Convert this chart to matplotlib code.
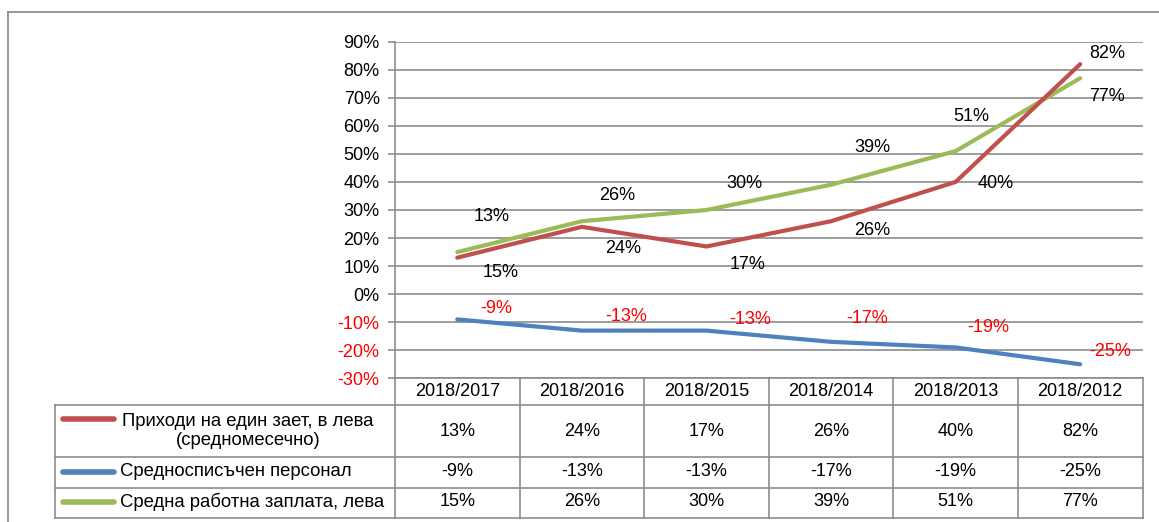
import matplotlib.pyplot as plt
from matplotlib.transforms import blended_transform_factory
from matplotlib.lines import Line2D

# Data
periods = ['2018/2017', '2018/2016', '2018/2015', '2018/2014', '2018/2013', '2018/2012']
income = [13, 24, 17, 26, 40, 82]          # Приходи на един зает
staff = [-9, -13, -13, -17, -19, -25]      # Средносписъчен персонал
salary = [15, 26, 30, 39, 51, 77]          # Средна работна заплата

series_names = ['Приходи на един зает, в лева\n(средномесечно)',
                'Средносписъчен персонал',
                'Средна работна заплата, лева']

RED = '#C0504D'
BLUE = '#4F81BD'
GREEN = '#9BBB59'
GRID = '#8C8C8C'

# label offsets (pixels) relative to each point
red_lbl_off = [(34, 41), (41, -22), (41, -18), (41, -9), (40, -2), (27, 11)]
green_lbl_off = [(43, -20), (35, 26), (38, 27), (41, 37), (16, 35), (27, -18)]
blue_lbl_off = [(39, 11), (44, 14), (44, 11), (36, 23), (33, 20), (30, 13)]

plt.rcParams['font.family'] = ['Liberation Sans', 'DejaVu Sans']

W, H = 1159, 522
fig = plt.figure(figsize=(W / 100, H / 100), dpi=100)


def fy(py):
    return 1 - py / H


def fx(px):
    return px / W


ax = fig.add_axes([fx(395), fy(378.3), fx(1142.5) - fx(395), fy(41.7) - fy(378.3)])
x = list(range(len(periods)))

ax.plot(x, staff, color=BLUE, lw=3, solid_capstyle='round', zorder=3)
ax.plot(x, salary, color=GREEN, lw=3, solid_capstyle='round', zorder=3)
ax.plot(x, income, color=RED, lw=3, solid_capstyle='round', zorder=4)

ax.set_xlim(-0.5, len(periods) - 0.5)
ax.set_ylim(-30, 90)
ax.set_yticks(range(-30, 91, 10))
ax.set_yticklabels([f'{v}%' for v in range(-30, 91, 10)], fontsize=13)
for lbl, v in zip(ax.get_yticklabels(), range(-30, 91, 10)):
    if v < 0:
        lbl.set_color('#FF0000')
ax.set_xticks([])
ax.tick_params(axis='y', length=5, width=1.2, color=GRID, pad=6)
ax.grid(axis='y', color=GRID, lw=1.2)
ax.set_axisbelow(True)
for s in ['top', 'right', 'bottom']:
    ax.spines[s].set_visible(False)
ax.spines['left'].set_color(GRID)
ax.spines['left'].set_linewidth(1.2)

# data labels
for i in x:
    ax.annotate(f'{income[i]}%', (i, income[i]), xytext=red_lbl_off[i], textcoords='offset pixels',
                ha='center', va='center', fontsize=13, color='black')
    ax.annotate(f'{salary[i]}%', (i, salary[i]), xytext=green_lbl_off[i], textcoords='offset pixels',
                ha='center', va='center', fontsize=13, color='black')
    ax.annotate(f'{staff[i]}%', (i, staff[i]), xytext=blue_lbl_off[i], textcoords='offset pixels',
                ha='center', va='center', fontsize=13, color='#FF0000')

# data table below the plot
tr = blended_transform_factory(ax.transData, fig.transFigure)
row_lines = [405, 457, 487.5, 517.5]
row_centers = [431, 472, 502]
hdr_center = 391.5

# horizontal lines
fig.add_artist(Line2D([fx(395), fx(1142.5)], [fy(378.3)] * 2, color=GRID, lw=1.2))
for py in row_lines:
    fig.add_artist(Line2D([fx(55), fx(1142.5)], [fy(py)] * 2, color=GRID, lw=1.2))
fig.add_artist(Line2D([fx(55), fx(55)], [fy(405), fy(517.5)], color=GRID, lw=1.2))
for k in range(len(periods) + 1):
    ax.add_line(Line2D([k - 0.5, k - 0.5], [fy(378.3), fy(517.5)], transform=tr,
                       color=GRID, lw=1.2, clip_on=False))

for i, p in enumerate(periods):
    ax.text(i, fy(hdr_center), p, transform=tr, ha='center', va='center', fontsize=13)
    for vals, yc in zip([income, staff, salary], row_centers):
        ax.text(i, fy(yc), f'{vals[i]}%', transform=tr, ha='center', va='center', fontsize=13)

# legend keys in the table
for color, name, yc, ky in zip([RED, BLUE, GREEN], series_names, row_centers, [419, 472, 502]):
    fig.add_artist(Line2D([fx(63), fx(114)], [fy(ky)] * 2, color=color, lw=4, solid_capstyle='round'))
    if '\n' in name:
        fig.text(fx(248), fy(yc), name, ha='center', va='center', fontsize=13.3, linespacing=1.15)
    else:
        fig.text(fx(120), fy(yc), name, ha='left', va='center', fontsize=13.3)

# outer chart frame
fig.add_artist(Line2D([fx(8), 1], [fy(12)] * 2, color='#888888', lw=1.2))
fig.add_artist(Line2D([fx(8), fx(8)], [fy(12), 0], color='#888888', lw=1.2))

fig.savefig('out.png', dpi=100)
